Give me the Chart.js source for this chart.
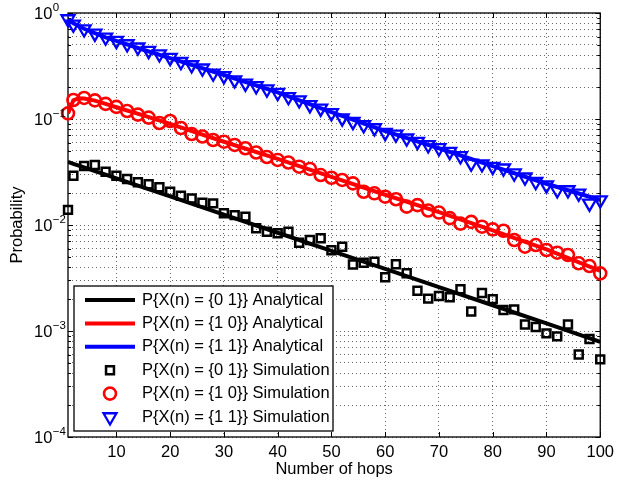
<!DOCTYPE html>
<html>
<head>
<meta charset="utf-8">
<script src="https://cdn.jsdelivr.net/npm/chart.js@4"></script>
<style>
  body { margin: 0; background: #fff; }
  #wrap { width: 620px; height: 485px; }
</style>
</head>
<body>
<div id="wrap"><canvas id="hopChart" width="620" height="485"></canvas></div>
<script>
// hops where the simulation was sampled
const simHops = [1, 2, 4, 6, 8, 10, 12, 14, 16, 18, 20, 22, 24, 26, 28, 30, 32, 34, 36, 38,
  40, 42, 44, 46, 48, 50, 52, 54, 56, 58, 60, 62, 64, 66, 68, 70, 72, 74, 76, 78,
  80, 82, 84, 86, 88, 90, 92, 94, 96, 98, 100];

const sim01 = [0.0139, 0.0292, 0.0360, 0.0368, 0.0318, 0.0292, 0.0272, 0.0253, 0.0242, 0.0227,
  0.0206, 0.0189, 0.0178, 0.0162, 0.0160, 0.0129, 0.0124, 0.0120, 0.00931, 0.00865,
  0.00835, 0.00865, 0.00681, 0.00722, 0.00749, 0.00577, 0.00624, 0.00424, 0.00441, 0.00451,
  0.00321, 0.00427, 0.00350, 0.00240, 0.00202, 0.00214, 0.00208, 0.00248, 0.00153, 0.00228,
  0.00200, 0.00158, 0.00160, 0.00115, 0.00109, 0.00095, 0.00089, 0.00115, 0.00060, 0.00084, 0.00054];

const sim10 = [0.113, 0.151, 0.158, 0.150, 0.139, 0.130, 0.119, 0.110, 0.103, 0.0917,
  0.0958, 0.0822, 0.0722, 0.0684, 0.0634, 0.0611, 0.0569, 0.0530, 0.0483, 0.0438,
  0.0411, 0.0389, 0.0355, 0.0338, 0.0296, 0.0279, 0.0266, 0.0247, 0.0206, 0.0199,
  0.0185, 0.0175, 0.0149, 0.0154, 0.0137, 0.0131, 0.0116, 0.0103, 0.0107, 0.00964,
  0.00910, 0.00883, 0.00722, 0.00624, 0.00647, 0.00581, 0.00548, 0.00521, 0.00435, 0.00410, 0.00350];

const sim11 = [0.878, 0.782, 0.706, 0.643, 0.590, 0.548, 0.510, 0.475, 0.441, 0.410,
  0.379, 0.347, 0.323, 0.301, 0.270, 0.255, 0.233, 0.217, 0.205, 0.191,
  0.177, 0.162, 0.151, 0.136, 0.126, 0.114, 0.102, 0.0944, 0.0878, 0.0822,
  0.0743, 0.0717, 0.0658, 0.0611, 0.0569, 0.0533, 0.0492, 0.0448, 0.0382, 0.0376,
  0.0355, 0.0343, 0.0308, 0.0282, 0.0256, 0.0238, 0.0214, 0.0214, 0.0199, 0.0160, 0.0172];

const anaHops = [1, 2, 3, 4, 6, 8, 10, 15, 20, 30, 40, 50, 60, 70, 80, 90, 100];
const ana01 = [0.0393, 0.0378, 0.0363, 0.0349, 0.0323, 0.0298, 0.0275, 0.0226, 0.0186, 0.0125,
  0.00845, 0.0057, 0.00385, 0.00259, 0.00175, 0.00118, 0.00079];
const ana10 = [0.113, 0.150, 0.157, 0.156, 0.149, 0.139, 0.129, 0.108, 0.090, 0.061,
  0.042, 0.0285, 0.0193, 0.0132, 0.0089, 0.0059, 0.0037];
const ana11 = [0.87, 0.80, 0.755, 0.71, 0.645, 0.59, 0.545, 0.45, 0.375, 0.26,
  0.178, 0.116, 0.077, 0.053, 0.036, 0.0245, 0.0172];

const seriesLabels = [
  'P{X(n) = {0 1}} Analytical',
  'P{X(n) = {1 0}} Analytical',
  'P{X(n) = {1 1}} Analytical',
  'P{X(n) = {0 1}} Simulation',
  'P{X(n) = {1 0}} Simulation',
  'P{X(n) = {1 1}} Simulation'
];

const xTicks = [10, 20, 30, 40, 50, 60, 70, 80, 90, 100];
const yExponents = [0, -1, -2, -3, -4];
const yMantissas = [1, 2, 3, 4, 5, 6, 7, 8, 9];

const FONT = "'Liberation Sans', Arial, Helvetica, sans-serif";
const FSIZE = 16.5;

function pts(xs, ys) {
  return xs.map((v, i) => ({x: v, y: ys[i]}));
}

function lineSet(label, data, color) {
  return {
    label: label, data: data, showLine: true, borderColor: color, backgroundColor: color,
    borderWidth: 4, pointRadius: 0, fill: false, order: 1, legendKind: 'line'
  };
}

function markSet(label, data, color, style, radius, rot, bw) {
  return {
    label: label, data: data, showLine: false, pointStyle: style, pointRadius: radius,
    pointRotation: rot, pointBorderWidth: bw, pointBorderColor: color,
    pointBackgroundColor: 'rgba(0,0,0,0)', borderColor: color, clip: false, order: 0,
    legendKind: 'mark'
  };
}

const yTickValues = [];
yExponents.forEach(e => {
  yMantissas.forEach(m => {
    const v = m * Math.pow(10, e);
    if (v <= 1) yTickValues.push(v);
  });
});

function isDecade(v) {
  const l = Math.log10(v);
  return Math.abs(l - Math.round(l)) < 1e-9;
}

const matlabAxes = {
  id: 'matlabAxes',
  beforeDatasetsDraw(chart) {
    const {ctx, chartArea: a, scales: {x, y}} = chart;
    ctx.save();
    ctx.strokeStyle = '#000';
    ctx.lineWidth = 1;
    ctx.beginPath();
    xTicks.forEach(v => {
      const px = Math.round(x.getPixelForValue(v)) + 0.5;
      ctx.moveTo(px, a.bottom); ctx.lineTo(px, a.bottom - 5);
      ctx.moveTo(px, a.top); ctx.lineTo(px, a.top + 5);
    });
    yTickValues.forEach(v => {
      const py = Math.round(y.getPixelForValue(v)) + 0.5;
      const len = isDecade(v) ? 5 : 3;
      ctx.moveTo(a.left, py); ctx.lineTo(a.left + len, py);
      ctx.moveTo(a.right, py); ctx.lineTo(a.right - len, py);
    });
    ctx.stroke();
    ctx.lineWidth = 1.3;
    ctx.strokeRect(a.left, a.top, a.width, a.height);
    ctx.restore();
  },
  afterDatasetsDraw(chart) {
    // legend box, lower left inside the axes
    const ctx = chart.ctx;
    const box = {left: 74, top: 286, right: 333, bottom: 431};
    ctx.save();
    ctx.fillStyle = '#fff';
    ctx.fillRect(box.left, box.top, box.right - box.left, box.bottom - box.top);
    ctx.strokeStyle = '#000';
    ctx.lineWidth = 1.3;
    ctx.strokeRect(box.left, box.top, box.right - box.left, box.bottom - box.top);
    chart.data.datasets.forEach((ds, i) => {
      const ry = 300 + i * 23.4;
      if (ds.legendKind === 'line') {
        ctx.strokeStyle = ds.borderColor;
        ctx.lineWidth = 4;
        ctx.beginPath();
        ctx.moveTo(85, ry); ctx.lineTo(135, ry);
        ctx.stroke();
      } else {
        ctx.strokeStyle = ds.pointBorderColor;
        ctx.fillStyle = 'rgba(0,0,0,0)';
        ctx.lineWidth = ds.pointBorderWidth;
        Chart.helpers.drawPoint(ctx, {
          pointStyle: ds.pointStyle, radius: ds.pointRadius,
          rotation: ds.pointRotation, borderWidth: ds.pointBorderWidth
        }, 110, ry);
      }
      ctx.fillStyle = '#000';
      ctx.font = FSIZE + 'px ' + FONT;
      ctx.textAlign = 'left';
      ctx.textBaseline = 'middle';
      ctx.fillText(ds.label, 142, ry);
    });
    ctx.restore();
  },
  afterDraw(chart) {
    // y labels as 10 with a raised exponent
    const {ctx, scales: {y}} = chart;
    ctx.save();
    ctx.fillStyle = '#000';
    ctx.textAlign = 'left';
    ctx.textBaseline = 'middle';
    yExponents.forEach(e => {
      const py = y.getPixelForValue(Math.pow(10, e));
      ctx.font = FSIZE + 'px ' + FONT;
      ctx.fillText('10', 34, py + 1);
      const w = ctx.measureText('10').width;
      ctx.font = '11.5px ' + FONT;
      ctx.fillText(e === 0 ? '0' : '\u2212' + Math.abs(e), 34 + w + 0.5, py - 5);
    });
    ctx.restore();
  }
};

document.addEventListener('DOMContentLoaded', function () {
  const ctx = document.getElementById('hopChart').getContext('2d');
  const hopChart = new Chart(ctx, {
    type: 'scatter',
    data: {
      datasets: [
        lineSet(seriesLabels[0], pts(anaHops, ana01), '#000000'),
        lineSet(seriesLabels[1], pts(anaHops, ana10), '#ff0000'),
        lineSet(seriesLabels[2], pts(anaHops, ana11), '#0000ff'),
        markSet(seriesLabels[3], pts(simHops, sim01), '#000000', 'rect', 5.6, 0, 2.5),
        markSet(seriesLabels[4], pts(simHops, sim10), '#ff0000', 'circle', 6, 0, 2.6),
        markSet(seriesLabels[5], pts(simHops, sim11), '#0000ff', 'triangle', 7.5, 180, 2.3)
      ]
    },
    options: {
      responsive: false,
      animation: false,
      layout: { padding: { top: 13, right: 13, left: 0, bottom: 0 } },
      scales: {
        x: {
          type: 'linear',
          min: 1,
          max: 100,
          afterBuildTicks: s => { s.ticks = xTicks.map(v => ({value: v})); },
          afterFit: s => { s.height = 48; },
          grid: { color: 'rgba(0,0,0,0.6)', lineWidth: 1, drawTicks: false },
          border: { display: false, dash: [1, 3] },
          ticks: { color: '#000', font: { family: FONT, size: FSIZE }, padding: 6, maxRotation: 0, autoSkip: false },
          title: { display: true, text: 'Number of hops', color: '#000', font: { family: FONT, size: FSIZE }, padding: { top: 0, bottom: 6 } }
        },
        y: {
          type: 'logarithmic',
          min: 1e-4,
          max: 1,
          afterBuildTicks: s => { s.ticks = yTickValues.map(v => ({value: v})); },
          afterFit: s => { s.width = 68; },
          grid: { color: 'rgba(0,0,0,0.6)', lineWidth: 1, drawTicks: false },
          border: { display: false, dash: [1, 3] },
          ticks: { display: false },
          title: { display: true, text: 'Probability', color: '#000', font: { family: FONT, size: FSIZE }, padding: { top: 8, bottom: 0 } }
        }
      },
      plugins: {
        legend: { display: false },
        tooltip: { enabled: false }
      }
    },
    plugins: [matlabAxes]
  });
});
</script>
</body>
</html>
